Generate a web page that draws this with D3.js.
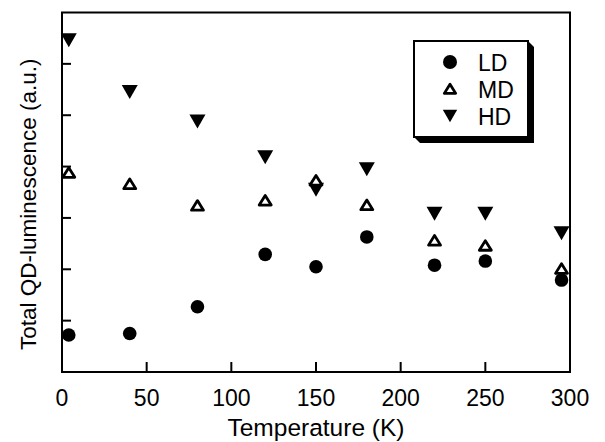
<!DOCTYPE html>
<html>
<head>
<meta charset="utf-8">
<script src="https://cdn.jsdelivr.net/npm/d3@7"></script>
<style>
  body { margin: 0; background: #fff; }
  text { font-family: "Liberation Sans", Arial, Helvetica, sans-serif; fill: #000; }
</style>
</head>
<body>
<script>
// temperatures (K) and luminescence (a.u.)
let temps = [4, 40, 80, 120, 150, 180, 220, 250, 295];
let ldValues = [0.72, 0.75, 1.27, 2.29, 2.05, 2.63, 2.08, 2.16, 1.79];
let mdValues = [3.88, 3.66, 3.24, 3.34, 3.73, 3.25, 2.56, 2.46, 2.01];
let hdValues = [6.46, 5.45, 4.88, 4.18, 3.55, 3.95, 3.08, 3.08, 2.70];
let xTicks = [0, 50, 100, 150, 200, 250, 300];
let yTicks = [1, 2, 3, 4, 5, 6];
let seriesNames = ['LD', 'MD', 'HD'];

let width = 605, height = 442;
let margin = {top: 12.5, right: 35, bottom: 70, left: 62};

let svg = d3.select('body').append('svg')
    .attr('width', width)
    .attr('height', height);

let x = d3.scaleLinear().domain([0, 300]).range([margin.left, width - margin.right]);
let y = d3.scaleLinear().domain([0, 7]).range([height - margin.bottom, margin.top]);

// frame
svg.append('rect')
    .attr('x', x(0)).attr('y', y(7))
    .attr('width', x(300) - x(0)).attr('height', y(0) - y(7))
    .attr('fill', 'none').attr('stroke', '#000').attr('stroke-width', 2);

// inward ticks
svg.selectAll('.xtick').data(xTicks.slice(1, -1)).enter().append('line')
    .attr('class', 'xtick')
    .attr('x1', d => x(d)).attr('x2', d => x(d))
    .attr('y1', y(0)).attr('y2', y(0) - 10)
    .attr('stroke', '#000').attr('stroke-width', 2);

svg.selectAll('.ytick').data(yTicks).enter().append('line')
    .attr('class', 'ytick')
    .attr('x1', x(0)).attr('x2', x(0) + 9)
    .attr('y1', d => y(d)).attr('y2', d => y(d))
    .attr('stroke', '#000').attr('stroke-width', 2);

svg.selectAll('.xlabel').data(xTicks).enter().append('text')
    .attr('class', 'xlabel')
    .attr('x', d => x(d)).attr('y', 406)
    .attr('text-anchor', 'middle')
    .style('font-size', '23px')
    .text(d => d);

svg.append('text')
    .attr('x', (x(0) + x(300)) / 2).attr('y', 436)
    .attr('text-anchor', 'middle')
    .style('font-size', '24.5px')
    .text('Temperature (K)');

svg.append('text')
    .attr('transform', 'translate(36,' + ((y(0) + y(7)) / 2 + 12) + ') rotate(-90)')
    .attr('text-anchor', 'middle')
    .style('font-size', '22.5px')
    .text('Total QD-luminescence (a.u.)');

// marker shapes
function downTri(s) {
    return 'M' + (-8 * s) + ',' + (-7 * s) + 'L' + (8 * s) + ',' + (-7 * s) + 'L0,' + (7 * s) + 'Z';
}
function upTri(s) {
    return 'M' + (-6 * s) + ',' + (4.6 * s) + 'L' + (6 * s) + ',' + (4.6 * s) + 'L0,' + (-5 * s) + 'Z';
}

function drawSeries(values, kind) {
    let pts = temps.map((t, i) => ({t, v: values[i]}));
    let sel = svg.selectAll('.pt-' + kind).data(pts).enter();
    if (kind === 'LD') {
        sel.append('circle')
            .attr('class', 'pt-' + kind)
            .attr('cx', d => x(d.t)).attr('cy', d => y(d.v))
            .attr('r', 6.8).attr('fill', '#000');
    } else if (kind === 'MD') {
        sel.append('path')
            .attr('class', 'pt-' + kind)
            .attr('transform', d => 'translate(' + x(d.t) + ',' + y(d.v) + ')')
            .attr('d', upTri(1))
            .attr('fill', '#fff').attr('stroke', '#000')
            .attr('stroke-width', 2.8).attr('stroke-linejoin', 'round');
    } else {
        sel.append('path')
            .attr('class', 'pt-' + kind)
            .attr('transform', d => 'translate(' + x(d.t) + ',' + y(d.v) + ')')
            .attr('d', downTri(1))
            .attr('fill', '#000');
    }
}
drawSeries(ldValues, 'LD');
drawSeries(hdValues, 'HD');
drawSeries(mdValues, 'MD');

// legend with drop shadow
let lg = svg.append('g');
let bx = 414, by = 41, bw = 114, bh = 96, sh = 6;
lg.append('path')
    .attr('d', 'M' + (bx + bw) + ',' + by + 'L' + (bx + bw + sh) + ',' + (by + sh) +
        'L' + (bx + bw + sh) + ',' + (by + bh + sh) + 'L' + (bx + sh) + ',' + (by + bh + sh) +
        'L' + bx + ',' + (by + bh) + 'Z')
    .attr('fill', '#000');
lg.append('rect')
    .attr('x', bx).attr('y', by).attr('width', bw).attr('height', bh)
    .attr('fill', '#fff').attr('stroke', '#000').attr('stroke-width', 2);

seriesNames.forEach((name, i) => {
    let cy = 62 + i * 27;
    if (name === 'LD') {
        lg.append('circle').attr('cx', 450).attr('cy', cy).attr('r', 7).attr('fill', '#000');
    } else if (name === 'MD') {
        lg.append('path').attr('transform', 'translate(450,' + cy + ')')
            .attr('d', upTri(0.95))
            .attr('fill', '#fff').attr('stroke', '#000')
            .attr('stroke-width', 2.8).attr('stroke-linejoin', 'round');
    } else {
        lg.append('path').attr('transform', 'translate(450,' + cy + ')')
            .attr('d', downTri(0.9)).attr('fill', '#000');
    }
    lg.append('text')
        .attr('x', 478).attr('y', cy + 8.5)
        .style('font-size', '23px')
        .text(name);
});
</script>
</body>
</html>
